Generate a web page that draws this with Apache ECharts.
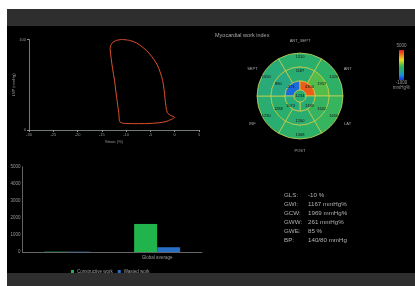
<!DOCTYPE html>
<html><head><meta charset="utf-8">
<script src="https://cdn.jsdelivr.net/npm/echarts@6/dist/echarts.min.js"></script>
<style>html,body{margin:0;padding:0;background:#fff}#c{width:415px;height:286px}</style>
</head><body><div id="c"></div>
<script>
// ---- data ----
const loopStrain = [-10.8,-9.3,-7.8,-6.5,-5.3,-4.3,-3.6,-3.0,-2.5,-2.2,-2.0,-1.8,-1.5,-0.8,0,-0.6,-2.0,-4.5,-7.5,-10.0,-11.3,-11.5,-11.8,-12.1,-12.4,-12.8,-13.1,-13.3,-12.9,-12.0,-10.8];
const loopPressure = [100,99,96,91,85,78,72,64,55,45,35,26,19,16,14,12,9,7.4,7,7.2,9,18,30,42,55,68,80,90,96,99,100];
const xTicks = [-30,-25,-20,-15,-10,-5,0,5];
const barCategories = ['', 'Global average'];
const constructiveWork = [20, 1650];
const wastedWork = [20, 280];
const barSeriesNames = ['Constructive work', 'Wasted work'];
const wallNames = ['ANT_SEPT','ANT','LAT','POST','INF','SEPT'];
const basalValues = [1310,1420,1650,1368,1230,1050];
const midValues = [1187,1957,1602,1260,1288,880];
const apicalValues = [-373,4300,1183,1074]; // upper-left, upper-right, lower-right, lower-left
const apexValues = [1234];
const colorRange = [-1000, 5000];
const statLabels = ['GLS:','GWI:','GCW:','GWW:','GWE:','BP:'];
const statValues = ['-10 %','1167 mmHg%','1969 mmHg%','261 mmHg%','85 %','140/80 mmHg'];

// ---- colour map ----
const cmap = [[-1000,[26,47,214]],[0,[26,142,224]],[700,[36,165,140]],[1300,[42,174,108]],[1800,[60,182,88]],[2400,[150,204,40]],[3000,[225,220,32]],[3900,[240,130,26]],[5000,[224,28,28]]];
function colorFor(v){
  if(v<=cmap[0][0]) return 'rgb('+cmap[0][1].join(',')+')';
  for(let i=1;i<cmap.length;i++){
    if(v<=cmap[i][0]){
      const a=cmap[i-1], b=cmap[i], t=(v-a[0])/(b[0]-a[0]);
      const c=a[1].map((x,k)=>Math.round(x+(b[1][k]-x)*t));
      return 'rgb('+c.join(',')+')';
    }
  }
  return 'rgb('+cmap[cmap.length-1][1].join(',')+')';
}
const gradStops = cmap.map(s=>({offset:1-(s[0]-colorRange[0])/(colorRange[1]-colorRange[0]), color:'rgb('+s[1].join(',')+')'})).reverse();

const FONT = 'Liberation Sans, Arial, sans-serif';
const axisGray = '#8f9898';
const textGray = '#9a9a9a';
const C = [300, 96];
const segBorder = '#c6d04e';

function ring(values, r0, r1, start){
  return {
    type:'pie', center:C, radius:[r0,r1], startAngle:start, clockwise:true, silent:true, animation:false,
    label:{show:true, position:'inside', formatter:'{b}', fontSize:4, color:'#111', fontFamily:FONT},
    labelLine:{show:false}, emphasis:{disabled:true},
    itemStyle:{borderColor:segBorder, borderWidth:0.8},
    data: values.map(v=>({name:String(v), value:1, itemStyle:{color:colorFor(v)}}))
  };
}

const chart = echarts.init(document.getElementById('c'), null, {renderer:'canvas'});
const graphics = [
  {type:'rect', shape:{x:7,y:9,width:408,height:277}, style:{fill:'#000'}, z:-10},
  {type:'rect', shape:{x:7,y:9,width:408,height:17}, style:{fill:'#2e2e2e'}, z:-9},
  {type:'rect', shape:{x:7,y:273,width:408,height:13}, style:{fill:'#2e2e2e'}, z:-9},
  {type:'text', x:215, y:35, style:{text:'Myocardial work index', fill:'#a8a8a8', font:'5.5px '+FONT, textVerticalAlign:'middle'}},
  {type:'rect', shape:{x:399,y:50,width:5,height:30}, style:{fill:new echarts.graphic.LinearGradient(0,0,0,1,gradStops)}},
  {type:'text', x:401.5, y:46, style:{text:String(colorRange[1]), fill:textGray, font:'4.5px '+FONT, textAlign:'center', textVerticalAlign:'middle'}},
  {type:'text', x:401.5, y:83, style:{text:String(colorRange[0]), fill:textGray, font:'4.5px '+FONT, textAlign:'center', textVerticalAlign:'middle'}},
  {type:'text', x:401.5, y:88, style:{text:'mmHg%', fill:textGray, font:'4.5px '+FONT, textAlign:'center', textVerticalAlign:'middle'}}
];
statLabels.forEach((s,i)=>{
  graphics.push({type:'text', x:284, y:195+i*9, style:{text:s, fill:'#b0b0b0', font:'6.2px '+FONT, textVerticalAlign:'middle'}});
  graphics.push({type:'text', x:308, y:195+i*9, style:{text:statValues[i], fill:'#b0b0b0', font:'6.2px '+FONT, textVerticalAlign:'middle'}});
});

const option = {
  backgroundColor:'#fff',
  animation:false,
  textStyle:{fontFamily:FONT},
  graphic: graphics,
  grid:[
    {left:29, right:216, top:39.5, bottom:156},
    {left:22.5, right:213, top:167, bottom:34}
  ],
  xAxis:[
    {type:'value', gridIndex:0, min:xTicks[0], max:xTicks[xTicks.length-1], interval:5,
     name:'Strain (%)', nameLocation:'middle', nameGap:10, nameTextStyle:{color:textGray, fontSize:4},
     axisLine:{onZero:false, lineStyle:{color:axisGray, width:0.8}}, axisTick:{show:true, length:2, lineStyle:{color:axisGray}},
     axisLabel:{color:textGray, fontSize:4, margin:3}, splitLine:{show:false}},
    {type:'category', gridIndex:1, data:barCategories,
     axisLine:{lineStyle:{color:'#7a7f85', width:0.8}}, axisTick:{show:false},
     axisLabel:{color:textGray, fontSize:4.5, margin:3}}
  ],
  yAxis:[
    {type:'value', gridIndex:0, min:0, max:100, interval:100,
     name:'LVP (mmHg)', nameLocation:'middle', nameGap:10, nameRotate:90, nameTextStyle:{color:textGray, fontSize:4},
     axisLine:{show:true, onZero:false, lineStyle:{color:axisGray, width:0.8}}, axisTick:{show:true, length:2, lineStyle:{color:axisGray}},
     axisLabel:{color:textGray, fontSize:4, margin:3}, splitLine:{show:false}},
    {type:'value', gridIndex:1, min:0, max:5000, interval:1000,
     axisLine:{show:true, lineStyle:{color:'#7a7f85', width:0.8}}, axisTick:{show:false},
     axisLabel:{color:textGray, fontSize:4.5, margin:2, formatter:v=>String(v)}, splitLine:{show:false}}
  ],
  legend:{data:barSeriesNames, left:66, top:264, itemWidth:3, itemHeight:3, itemGap:5, icon:'rect',
    textStyle:{color:'#a0a0a0', fontSize:4.5, padding:[0,0,0,-2]}},
  series:[
    {type:'line', name:'PV loop', xAxisIndex:0, yAxisIndex:0, showSymbol:false, smooth:0.3, silent:true,
     lineStyle:{color:'#d9502c', width:1},
     data: loopStrain.map((s,i)=>[s, loopPressure[i]])},
    {type:'bar', name:barSeriesNames[0], xAxisIndex:1, yAxisIndex:1, data:constructiveWork, barWidth:23, barGap:'0%',
     itemStyle:{color:'#21b34c'}},
    {type:'bar', name:barSeriesNames[1], xAxisIndex:1, yAxisIndex:1, data:wastedWork, barWidth:23, barGap:'0%',
     itemStyle:{color:'#2a6fc6'}},
    ring(basalValues, 29, 43, 120),
    ring(midValues, 15, 29, 120),
    ring(apicalValues, 6, 15, 180),
    Object.assign(ring(apexValues, 0, 6, 90), {label:{show:true, position:'center', formatter:'{b}', fontSize:4, color:'#111', fontFamily:FONT}}),
    {type:'pie', center:C, radius:[47,57], startAngle:120, clockwise:true, silent:true,
     label:{show:true, position:'inside', formatter:'{b}', fontSize:4, color:'#a8a8a8', fontFamily:FONT},
     labelLine:{show:false}, emphasis:{disabled:true}, itemStyle:{color:'rgba(0,0,0,0)', borderWidth:0},
     data: wallNames.map(n=>({name:n, value:1}))}
  ]
};
chart.setOption(option);
</script></body></html>
